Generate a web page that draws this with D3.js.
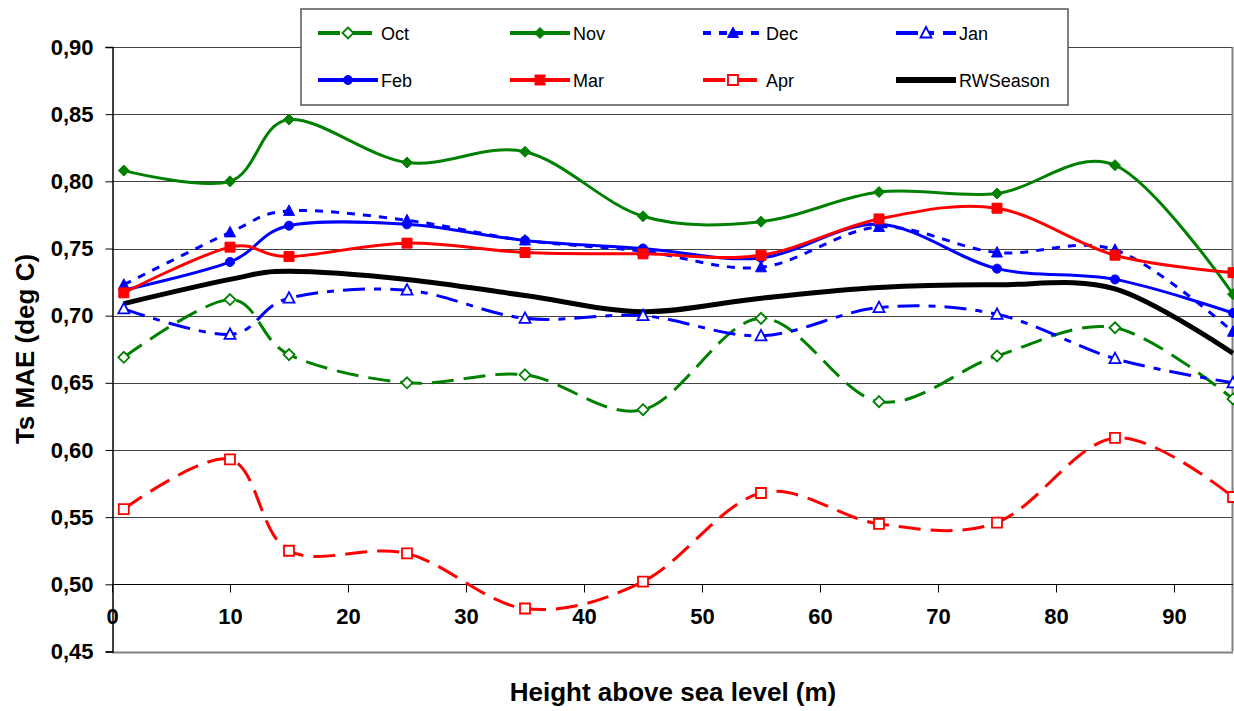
<!DOCTYPE html>
<html lang="en">
<head>
  <meta charset="UTF-8">
  <title>Ts MAE by height</title>
  <script src="https://d3js.org/d3.v7.min.js"></script>
  <style>
    body { margin: 0; background: #fff; }
    svg { display: block; font-family: "Liberation Sans", Arial, sans-serif; }
    .tick-label { font-size: 22px; font-weight: bold; fill: #000; }
    .axis-title { font-size: 26px; font-weight: bold; fill: #000; }
    .legend-text { font-size: 18px; fill: #000; }
  </style>
</head>
<body>
  <svg id="chart"></svg>
  <script>
    // values
    const heights = [1, 10, 15, 25, 35, 45, 55, 65, 75, 85, 95];
    const octVals = [0.669, 0.712, 0.671, 0.650, 0.656, 0.630, 0.698, 0.636, 0.670, 0.691, 0.638];
    const novVals = [0.808, 0.800, 0.846, 0.814, 0.822, 0.774, 0.770, 0.792, 0.791, 0.812, 0.716];
    const decVals = [0.723, 0.762, 0.778, 0.771, 0.756, 0.748, 0.736, 0.766, 0.747, 0.749, 0.688];
    const janVals = [0.705, 0.686, 0.713, 0.719, 0.698, 0.700, 0.685, 0.706, 0.701, 0.668, 0.650];
    const febVals = [0.719, 0.740, 0.767, 0.768, 0.756, 0.750, 0.743, 0.768, 0.735, 0.727, 0.702];
    const marVals = [0.717, 0.751, 0.744, 0.754, 0.747, 0.746, 0.745, 0.772, 0.780, 0.745, 0.732];
    const aprVals = [0.556, 0.593, 0.525, 0.523, 0.482, 0.502, 0.568, 0.545, 0.546, 0.609, 0.565];
    const rwsVals = [0.709, 0.727, 0.733, 0.727, 0.715, 0.703, 0.713, 0.721, 0.723, 0.720, 0.672];

    const xTicks = [0, 10, 20, 30, 40, 50, 60, 70, 80, 90];
    const yTicks = [0.45, 0.50, 0.55, 0.60, 0.65, 0.70, 0.75, 0.80, 0.85, 0.90];

    const series = [
      { name: "Oct", values: octVals, color: "#008000", width: 3, dash: "22,10", marker: "diamond", filled: false },
      { name: "Nov", values: novVals, color: "#008000", width: 3, dash: null, marker: "diamond", filled: true },
      { name: "Dec", values: decVals, color: "#0000ff", width: 3, dash: "8,8", marker: "triangle", filled: true },
      { name: "Jan", values: janVals, color: "#0000ff", width: 3, dash: "22,9,7,9", marker: "triangle", filled: false },
      { name: "Feb", values: febVals, color: "#0000ff", width: 3, dash: null, marker: "circle", filled: true },
      { name: "Mar", values: marVals, color: "#ff0000", width: 3, dash: null, marker: "square", filled: true },
      { name: "Apr", values: aprVals, color: "#ff0000", width: 3, dash: "22,10", marker: "square", filled: false },
      { name: "RWSeason", values: rwsVals, color: "#000000", width: 5, dash: null, marker: null, filled: true }
    ];

    const W = 1234, H = 711;
    const svg = d3.select("#chart").attr("width", W).attr("height", H);

    const x = d3.scaleLinear().domain([0, 95]).range([112, 1233]);
    const y = d3.scaleLinear().domain([0.45, 0.90]).range([651.5, 47]);
    const fmt = d => d3.format(".2f")(d).replace(".", ",");

    // gridlines
    svg.append("g")
      .selectAll("line")
      .data(yTicks)
      .enter().append("line")
      .attr("x1", x(0)).attr("x2", x(95))
      .attr("y1", d => Math.round(y(d)) + 0.5).attr("y2", d => Math.round(y(d)) + 0.5)
      .attr("stroke", d => d === 0.45 ? "#808080" : "#444")
      .attr("stroke-width", d => d === 0.45 ? 2 : 1);

    // right border
    svg.append("line")
      .attr("x1", x(95) - 0.5).attr("x2", x(95) - 0.5)
      .attr("y1", y(0.90)).attr("y2", y(0.45))
      .attr("stroke", "#808080").attr("stroke-width", 2);

    // y axis
    const yAxis = svg.append("g")
      .attr("transform", "translate(" + (x(0) + 0.5) + ",0)")
      .call(d3.axisLeft(y).tickValues(yTicks).tickFormat(fmt).tickSize(7).tickPadding(12));
    yAxis.select(".domain").attr("stroke", "#000").attr("stroke-width", 1.5);
    yAxis.selectAll(".tick line").attr("stroke", "#000");
    yAxis.selectAll("text").attr("class", "tick-label").attr("font-family", null).attr("font-size", null);

    // x axis crossing at 0.50
    const xAxis = svg.append("g")
      .attr("transform", "translate(0," + (Math.round(y(0.50)) + 0.5) + ")")
      .call(d3.axisBottom(x).tickValues(xTicks).tickFormat(d3.format("d")).tickSize(8).tickPadding(16));
    xAxis.select(".domain").remove();
    xAxis.append("line").attr("x1", x(0)).attr("x2", x(95)).attr("stroke", "#000");
    xAxis.selectAll(".tick line").attr("stroke", "#000");
    xAxis.selectAll("text").attr("class", "tick-label").attr("font-family", null).attr("font-size", null);

    // axis titles
    svg.append("text")
      .attr("class", "axis-title")
      .attr("text-anchor", "middle")
      .attr("transform", "translate(34,349) rotate(-90)")
      .text("Ts MAE (deg C)");

    svg.append("text")
      .attr("class", "axis-title")
      .attr("text-anchor", "middle")
      .attr("x", 673).attr("y", 701)
      .text("Height above sea level (m)");

    // marker shapes
    function markerPath(type) {
      if (type === "diamond") return "M0,-5.5L5.5,0L0,5.5L-5.5,0Z";
      if (type === "triangle") return "M0,-6L5.5,4.5L-5.5,4.5Z";
      if (type === "square") return "M-5,-5H5V5H-5Z";
      if (type === "circle") return d3.symbol(d3.symbolCircle, 64)();
      return null;
    }

    function drawMarker(g, s, cx, cy) {
      if (!s.marker) return;
      g.append("path")
        .attr("d", markerPath(s.marker))
        .attr("transform", "translate(" + cx + "," + cy + ")")
        .attr("fill", s.filled ? s.color : "#fff")
        .attr("stroke", s.color)
        .attr("stroke-width", s.filled ? 1 : 1.8);
    }

    const line = d3.line()
      .x(d => x(d[0]))
      .y(d => y(d[1]))
      .curve(d3.curveCardinal.tension(0));

    // lines first, then markers on top
    const lines = svg.append("g");
    series.forEach(s => {
      lines.append("path")
        .datum(heights.map((h, i) => [h, s.values[i]]))
        .attr("d", line)
        .attr("fill", "none")
        .attr("stroke", s.color)
        .attr("stroke-width", s.width)
        .attr("stroke-dasharray", s.dash)
        .attr("stroke-linejoin", "round");
    });

    const marks = svg.append("g");
    series.forEach(s => {
      heights.forEach((h, i) => drawMarker(marks, s, x(h), y(s.values[i])));
    });

    // legend
    const legend = svg.append("g");
    legend.append("rect")
      .attr("x", 301).attr("y", 9)
      .attr("width", 767).attr("height", 96)
      .attr("fill", "#fff")
      .attr("stroke", "#555").attr("stroke-width", 1.5);

    const colX = [318, 510, 703, 896];
    const rowY = [33, 80];
    series.forEach((s, i) => {
      const lx = colX[i % 4], ly = rowY[Math.floor(i / 4)];
      legend.append("line")
        .attr("x1", lx).attr("x2", lx + 60)
        .attr("y1", ly).attr("y2", ly)
        .attr("stroke", s.color)
        .attr("stroke-width", s.name === "RWSeason" ? 6 : 4)
        .attr("stroke-dasharray", s.dash);
      drawMarker(legend, s, lx + 30, ly);
      legend.append("text")
        .attr("class", "legend-text")
        .attr("x", lx + 63).attr("y", ly + 6.5)
        .text(s.name);
    });
  </script>
</body>
</html>
